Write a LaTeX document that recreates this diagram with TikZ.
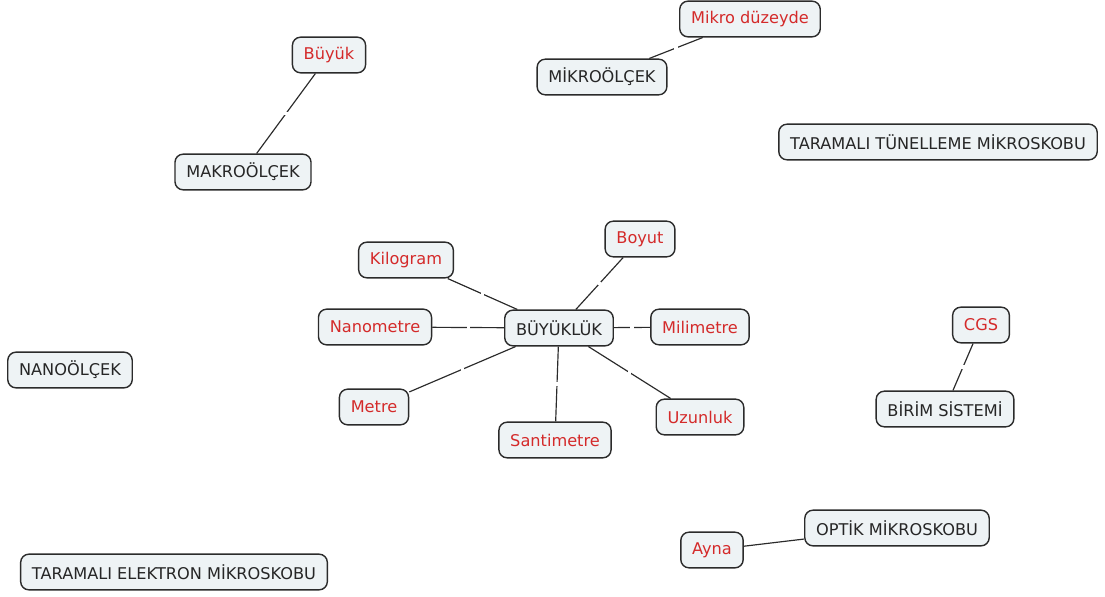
\documentclass[tikz,border=0pt]{standalone}
\usepackage{fontspec}
\setmainfont{DejaVu Sans}
\usetikzlibrary{calc}

\definecolor{conceptfill}{HTML}{EEF3F5}
\definecolor{conceptred}{HTML}{D42A2A}
\definecolor{conceptline}{HTML}{2B2B2B}

\tikzset{
    concept/.style = {draw = conceptline, line width = 1.2pt, fill = conceptfill, rounded corners = 7pt,
        minimum height = 1.07cm, inner xsep = 0.34cm, font = \fontsize{13.8}{15}\selectfont, text = black!85},
    leaf/.style = {concept, text = conceptred},
    link/.style = {conceptline, line width = 1pt},
    gap/.style = {fill = white, inner sep = 1.4pt, minimum size = 0pt}
}

\begin{document}
\begin{tikzpicture}[x = 0.03cm, y = -0.03cm]
            \useasboundingbox (0, 0) rectangle (1105, 597);

            % main concept and its leaves
            \node[concept] (buyukluk) at (559, 328) {BÜYÜKLÜK};
            \node[leaf] (boyut) at (640, 239) {Boyut};
            \node[leaf] (kilogram) at (406, 260) {Kilogram};
            \node[leaf] (nanometre) at (375, 327) {Nanometre};
            \node[leaf] (milimetre) at (700, 327) {Milimetre};
            \node[leaf] (metre) at (374, 407) {Metre};
            \node[leaf] (santimetre) at (555, 440) {Santimetre};
            \node[leaf] (uzunluk) at (700, 417) {Uzunluk};

            \draw[link] (kilogram) -- node[gap] {} (buyukluk);
            \draw[link] (boyut) -- node[gap] {} (buyukluk);
            \draw[link] (nanometre) -- node[gap] {} (buyukluk);
            \draw[link] (buyukluk) -- node[gap] {} (milimetre);
            \draw[link] (metre) -- node[gap] {} (buyukluk);
            \draw[link] (buyukluk) -- node[gap] {} (santimetre);
            \draw[link] (buyukluk) -- node[gap] {} (uzunluk);

            % scales
            \node[leaf] (buyuk) at (329, 55) {Büyük};
            \node[concept] (makro) at (243, 172) {MAKROÖLÇEK};
            \draw[link] (buyuk) -- node[gap] {} (makro);

            \node[leaf] (mikroduzey) at (750, 19) {Mikro düzeyde};
            \node[concept] (mikro) at (602, 77) {MİKROÖLÇEK};
            \draw[link] (mikroduzey) -- node[gap] {} (mikro);

            \node[concept] (nano) at (70, 370) {NANOÖLÇEK};

            % unit system
            \node[leaf] (cgs) at (981, 325) {CGS};
            \node[concept] (birim) at (945, 409) {BİRİM SİSTEMİ};
            \draw[link] (cgs) -- node[gap] {} (birim);

            % microscopes
            \node[concept] (tunel) at (938, 142) {TARAMALI TÜNELLEME MİKROSKOBU};
            \node[concept] (optik) at (897, 528) {OPTİK MİKROSKOBU};
            \node[leaf] (ayna) at (712, 550) {Ayna};
            \draw[link] (ayna) -- (optik);
            \node[concept] (elektron) at (174, 572) {TARAMALI ELEKTRON MİKROSKOBU};
        \end{tikzpicture}
\end{document}
